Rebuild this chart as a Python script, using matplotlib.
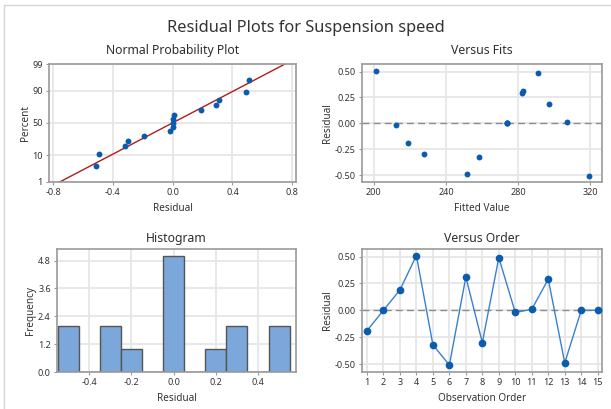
from statistics import NormalDist

import numpy as np
from matplotlib import pyplot as plt
from matplotlib.lines import Line2D

plt.rcParams['font.family'] = ['Noto Sans', 'DejaVu Sans']

# residuals in observation order and matching fitted values
observation = list(range(1, 16))
residuals = [-0.19, 0.00, 0.19, 0.51, -0.32, -0.51, 0.31, -0.30, 0.49, -0.02, 0.01, 0.29, -0.49, 0.00, 0.00]
fitted = [219.1, 273.9, 297.4, 201.1, 258.3, 319.4, 282.8, 227.8, 290.9, 212.4, 306.9, 282.0, 251.5, 273.9, 273.9]

prob_ticks = [1, 10, 50, 90, 99]
resid_ticks = [-0.50, -0.25, 0.00, 0.25, 0.50]
hist_edges = np.linspace(-0.55, 0.55, 12)

BLUE = "#0b5cad"
LINE_BLUE = "#3b80cf"
GRID = "#e6e6e6"
FRAME = "#9a9a9a"
TXT = "#333333"

nd = NormalDist()


def style_axes(ax):
    ax.set_axisbelow(True)
    ax.grid(True, color=GRID, linewidth=1.3)
    for sp in ax.spines.values():
        sp.set_color(FRAME)
        sp.set_linewidth(1.2)
    ax.tick_params(labelsize=6.5, colors=TXT, length=2.5, width=0.8, pad=2)
    ax.tick_params(axis='both', color=FRAME)


fig = plt.figure(figsize=(6.11, 4.09), dpi=100)
W, H = 611, 409


def px_axes(left, top, right, bottom):
    return fig.add_axes([left / W, 1 - bottom / H, (right - left) / W, (bottom - top) / H])


ax1 = px_axes(49, 64, 296, 182)
ax2 = px_axes(362, 64, 602, 182)
ax3 = px_axes(57, 249, 296, 372)
ax4 = px_axes(362, 249, 602, 372)

for ax in (ax1, ax2, ax3, ax4):
    style_axes(ax)

LBL = dict(fontsize=7.2, color=TXT)
TTL = dict(fontsize=8.8, color="#2e2e2e")

# Normal probability plot
res = np.array(residuals)
n = len(res)
srt = np.sort(res)
pct = (np.arange(1, n + 1) - 0.3) / (n + 0.4)
z = np.array([nd.inv_cdf(p) for p in pct])
mu, sd = res.mean(), res.std(ddof=1)
zl = np.linspace(-3, 3, 50)
ax1.plot(mu + sd * zl, zl, color="#b01c1c", linewidth=1.0, zorder=2)
ax1.scatter(srt, z, s=18, color=BLUE, zorder=3, linewidths=0)
ax1.set_xlim(-0.827, 0.825)
ax1.set_ylim(nd.inv_cdf(0.0095), nd.inv_cdf(0.9905))
ax1.set_xticks([-0.8, -0.4, 0.0, 0.4, 0.8])
ax1.set_xticklabels(["-0.8", "-0.4", "0.0", "0.4", "0.8"])
ax1.set_yticks([nd.inv_cdf(p / 100) for p in prob_ticks])
ax1.set_yticklabels([str(p) for p in prob_ticks])
ax1.set_xlabel("Residual", labelpad=4, **LBL)
ax1.set_ylabel("Percent", labelpad=1, **LBL)
ax1.set_title("Normal Probability Plot", pad=7, **TTL)

# Versus fits
ax2.axhline(0, color="#8c8c8c", linewidth=1.0, dashes=(5, 3), zorder=1)
ax2.scatter(fitted, residuals, s=18, color=BLUE, zorder=3, linewidths=0)
ax2.set_xlim(193.5, 326.5)
ax2.set_ylim(-0.566, 0.573)
ax2.set_xticks([200, 240, 280, 320])
ax2.set_yticks(resid_ticks)
ax2.set_yticklabels([f"{v:.2f}" for v in resid_ticks])
ax2.set_xlabel("Fitted Value", labelpad=4, **LBL)
ax2.set_ylabel("Residual", labelpad=1, **LBL)
ax2.set_title("Versus Fits", pad=7, **TTL)

# Histogram
ax3.hist(residuals, bins=hist_edges, color="#7ba7da", edgecolor="#555555", linewidth=1.0, zorder=2)
ax3.set_xlim(-0.553, 0.58)
ax3.set_ylim(0, 5.3)
ax3.set_xticks([-0.4, -0.2, 0.0, 0.2, 0.4])
ax3.set_xticklabels(["-0.4", "-0.2", "0.0", "0.2", "0.4"])
ax3.set_yticks([0.0, 1.2, 2.4, 3.6, 4.8])
ax3.set_yticklabels(["0.0", "1.2", "2.4", "3.6", "4.8"])
ax3.set_xlabel("Residual", labelpad=4, **LBL)
ax3.set_ylabel("Frequency", labelpad=1, **LBL)
ax3.set_title("Histogram", pad=5, **TTL)

# Versus order
ax4.axhline(0, color="#8c8c8c", linewidth=1.0, dashes=(5, 3), zorder=1)
ax4.plot(observation, residuals, color=LINE_BLUE, linewidth=1.0, marker='o', markersize=4.5,
         markerfacecolor=BLUE, markeredgecolor=BLUE, zorder=3)
ax4.set_xlim(0.7, 15.26)
ax4.set_ylim(-0.574, 0.571)
ax4.set_xticks(observation)
ax4.set_yticks(resid_ticks)
ax4.set_yticklabels([f"{v:.2f}" for v in resid_ticks])
ax4.set_xlabel("Observation Order", labelpad=4, **LBL)
ax4.set_ylabel("Residual", labelpad=1, **LBL)
ax4.set_title("Versus Order", pad=5, **TTL)

fig.text(0.5, 1 - 28 / H, "Residual Plots for Suspension speed", ha='center', va='center',
         fontsize=11.8, color="#333333", fontweight='medium')

# screenshot frame lines
fig.add_artist(Line2D([4 / W, 1], [1 - 5 / H, 1 - 5 / H], color="#d6d6d6", linewidth=1.0))
fig.add_artist(Line2D([4 / W, 4 / W], [0, 1 - 5 / H], color="#d6d6d6", linewidth=1.0))

plt.savefig("out.png", dpi=100)
